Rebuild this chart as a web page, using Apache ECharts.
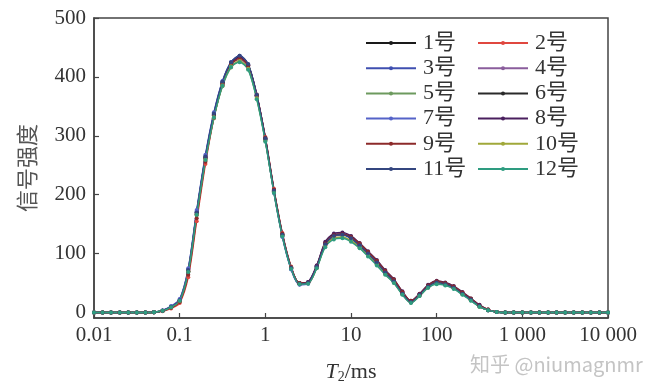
<!DOCTYPE html>
<html>
<head>
<meta charset="utf-8">
<script src="https://cdn.jsdelivr.net/npm/echarts@6/dist/echarts.min.js"></script>
<style>
html,body{margin:0;padding:0;background:#fff;}
#chart{width:661px;height:389px;}
</style>
</head>
<body>
<div id="chart"></div>
<script>
// T2 relaxation times (ms), 10 points per decade
const t2 = [0.01,0.0126,0.0158,0.02,0.0251,0.0316,0.0398,0.0501,0.0631,0.0794,
  0.1,0.126,0.158,0.2,0.251,0.316,0.398,0.501,0.631,0.794,
  1,1.26,1.58,2,2.51,3.16,3.98,5.01,6.31,7.94,
  10,12.6,15.8,20,25.1,31.6,39.8,50.1,63.1,79.4,
  100,126,158,200,251,316,398,501,631,794,
  1000,1260,1580,2000,2510,3160,3980,5010,6310,7940,10000];

const names = ['1号','2号','3号','4号','5号','6号','7号','8号','9号','10号','11号','12号'];
const colors = ['#1a1a1a','#e0473f','#3f4fb0','#8a5d9c','#6d9a5e','#2a2a2a','#5563c8','#4a1f5e','#8c2a2a','#a0a83a','#34467f','#2e9c80'];

const s1 = [0,0,0,0,0,0,0,0.4,3,9,21,72,170,264,336,390,423,433,419,368,295,207,132,76,49,51,79,117,131,133,127,115,101,86,69,54,33,19,31,45,52,49,43,33,22,11,4,1,0,0,0,0,0,0,0,0,0,0,0,0,0];
const s2 = [0,0,0,0,0,0,0,0.3,2,7,16,60,155,252,330,386,421,431,420,370,298,210,135,78,50,50,76,114,129,132,127,116,102,87,70,55,34,19,30,44,51,49,43,33,23,12,5,1,0,0,0,0,0,0,0,0,0,0,0,0,0];
const s3 = [0,0,0,0,0,0,0,0.5,3,10,22,74,172,266,338,392,425,436,421,369,294,205,130,74,48,50,77,116,130,132,126,114,100,85,68,53,32,18,30,44,51,48,42,32,22,11,4,1,0,0,0,0,0,0,0,0,0,0,0,0,0];
const s4 = [0,0,0,0,0,0,0,0.4,3,9,20,70,168,261,334,388,421,430,417,366,293,205,130,75,49,52,80,119,133,135,129,117,102,87,70,55,34,19,31,45,52,49,43,33,22,11,4,1,0,0,0,0,0,0,0,0,0,0,0,0,0];
const s5 = [0,0,0,0,0,0,0,0.5,3,9,19,68,165,258,330,384,416,426,413,363,291,204,130,75,49,50,76,113,126,128,122,111,97,82,66,51,31,17,28,42,49,47,41,31,21,10,4,1,0,0,0,0,0,0,0,0,0,0,0,0,0];
const s6 = [0,0,0,0,0,0,0,0.5,3,9,20,70,169,263,336,390,424,434,420,368,294,206,131,75,48,50,78,117,131,133,127,115,101,86,69,54,33,18,30,44,51,48,42,32,22,11,4,1,0,0,0,0,0,0,0,0,0,0,0,0,0];
const s7 = [0,0,0,0,0,0,0,0.6,4,11,23,75,174,268,340,393,425,435,420,367,292,203,128,73,47,49,77,116,130,132,126,114,100,85,68,52,31,17,29,43,50,47,41,31,21,10,4,1,0,0,0,0,0,0,0,0,0,0,0,0,0];
const s8 = [0,0,0,0,0,0,0,0.4,3,9,20,69,167,262,335,389,423,433,419,368,296,208,133,77,50,52,80,120,134,136,130,118,104,89,72,57,36,20,32,47,54,51,45,35,24,13,5,1,0,0,0,0,0,0,0,0,0,0,0,0,0];
const s9 = [0,0,0,0,0,0,0,0.4,3,8,18,64,160,256,331,387,421,431,419,369,297,209,134,77,50,51,78,117,131,133,128,117,103,88,71,56,35,20,31,46,53,50,44,34,24,12,5,1,0,0,0,0,0,0,0,0,0,0,0,0,0];
const s10 = [0,0,0,0,0,0,0,0.5,3,9,20,70,167,260,332,386,418,427,414,364,292,205,131,76,49,50,76,113,126,128,122,110,97,82,65,51,31,17,29,43,50,47,41,31,21,10,4,1,0,0,0,0,0,0,0,0,0,0,0,0,0];
const s11 = [0,0,0,0,0,0,0,0.5,3,10,21,72,170,265,338,392,425,436,422,370,296,207,132,76,49,51,78,116,130,132,126,114,100,85,68,53,32,18,30,44,51,48,42,32,22,11,4,1,0,0,0,0,0,0,0,0,0,0,0,0,0];
const s12 = [0,0,0,0,0,0,0,0.5,3,9,20,69,166,259,331,385,417,425,412,362,290,203,129,74,48,49,75,111,124,126,120,109,95,80,64,50,30,16,28,42,48,46,40,30,20,10,4,1,0,0,0,0,0,0,0,0,0,0,0,0,0];
const seriesValues = [s1,s2,s3,s4,s5,s6,s7,s8,s9,s10,s11,s12];

const xTickValues = [0.01,0.1,1,10,100,1000,10000];
const xTickLabels = ['0.01','0.1','1','10','100','1 000','10 000'];
const yTickValues = [0,100,200,300,400,500];

const serif = "'Liberation Serif','Noto Sans CJK SC',serif";
const axisColor = '#444';

const chart = echarts.init(document.getElementById('chart'), null, {renderer:'canvas'});

const series = seriesValues.map((vals, k) => ({
  name: names[k],
  type: 'line',
  data: vals.map((v, i) => [t2[i], v]),
  smooth: 0.3,
  symbol: 'circle',
  symbolSize: 4,
  showSymbol: true,
  showAllSymbol: true,
  lineStyle: {width: 1.4, color: colors[k]},
  itemStyle: {color: colors[k]},
  emphasis: {disabled: true}
}));

const legendCommon = {
  orient: 'vertical',
  itemWidth: 50,
  itemHeight: 5,
  itemGap: 3.2,
  top: 32,
  padding: 0,
  textStyle: {fontFamily: serif, fontSize: 22, lineHeight: 22, color: '#333', padding: [0,0,0,2]}
};

chart.setOption({
  animation: false,
  backgroundColor: '#fff',
  grid: {left: 94, right: 53, top: 18, bottom: 70, show: true, borderColor: axisColor, borderWidth: 1.5, backgroundColor: 'transparent'},
  legend: [
    Object.assign({}, legendCommon, {left: 365, data: ['1号','3号','5号','7号','9号','11号']}),
    Object.assign({}, legendCommon, {left: 477, data: ['2号','4号','6号','8号','10号','12号']})
  ],
  xAxis: {
    type: 'log',
    logBase: 10,
    min: 0.01,
    max: 10000,
    name: '{i|T}{s|2}{n|/ms}',
    nameLocation: 'middle',
    nameGap: 42,
    nameTextStyle: {
      rich: {
        i: {fontFamily: serif, fontStyle: 'italic', fontSize: 22, color: '#333'},
        s: {fontFamily: serif, fontSize: 14, color: '#333', padding: [10,0,0,0]},
        n: {fontFamily: serif, fontSize: 22, color: '#333'}
      }
    },
    axisLine: {onZero: false, lineStyle: {color: axisColor, width: 1.5}},
    axisTick: {inside: true, length: 5, lineStyle: {color: axisColor, width: 1.2}, customValues: xTickValues},
    axisLabel: {
      customValues: xTickValues,
      margin: 7,
      fontFamily: serif, fontSize: 21, color: '#333',
      formatter: function (v) {
        const idx = Math.round(Math.log10(v)) + 2;
        return xTickLabels[idx] !== undefined ? xTickLabels[idx] : '';
      }
    },
    splitLine: {show: false},
    minorTick: {show: false}
  },
  yAxis: {
    type: 'value',
    min: -9.3,
    max: 500,
    name: '信号强度',
    nameLocation: 'middle',
    nameRotate: 90,
    nameGap: 56,
    nameTextStyle: {fontFamily: "'Noto Sans CJK SC',sans-serif", fontSize: 22, color: '#555'},
    axisLine: {lineStyle: {color: axisColor, width: 1.5}},
    axisTick: {inside: true, length: 5, lineStyle: {color: axisColor, width: 1.2}, customValues: yTickValues},
    axisLabel: {customValues: yTickValues, margin: 8, fontFamily: serif, fontSize: 21, color: '#333'},
    splitLine: {show: false}
  },
  graphic: [{
    type: 'text',
    left: 470,
    top: 354,
    style: {text: '知乎 @niumagnmr', fontFamily: "'Noto Sans CJK SC',sans-serif", fontSize: 20, fill: '#c4c4c4'}
  }],
  series: series
});
</script>
</body>
</html>
